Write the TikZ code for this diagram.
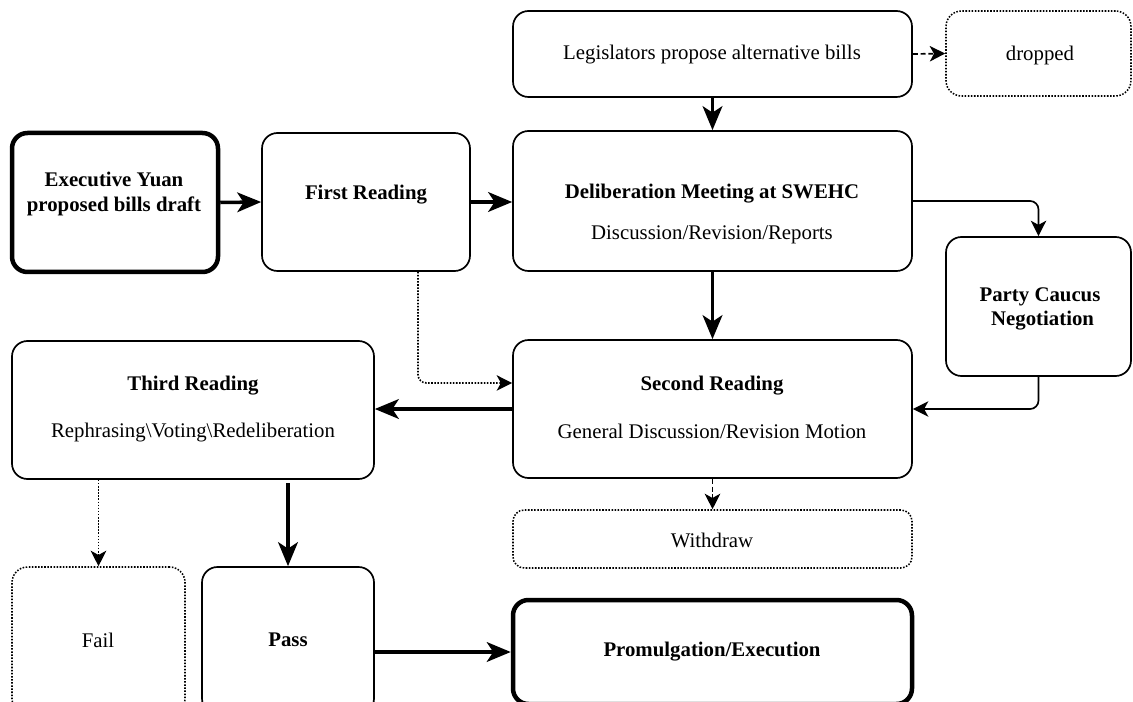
\documentclass[tikz,border=0pt]{standalone}
\usepackage{fontspec}
\setmainfont{Liberation Serif}
\usetikzlibrary{arrows.meta,fit,calc}
\begin{document}
\begin{tikzpicture}[x=0.025cm,y=-0.025cm,
  box/.style={draw=black,line width=1.2pt,rounded corners=11pt,inner sep=0pt,fill=white},
  heavybox/.style={box,line width=3.2pt},
  dotbox/.style={box,line width=1.1pt,dash pattern=on 1.1pt off 1.1pt},
  txt/.style={font=\fontsize{14.8}{16.5}\selectfont,align=center,inner sep=0pt},
  btxt/.style={txt,font=\fontsize{14.8}{17.5}\selectfont\bfseries},
  tip/.style={-{Stealth[length=11pt,width=11pt,inset=3pt]}},
  conn/.style={tip,line width=1.2pt,rounded corners=6pt},
  heavy/.style={-{Stealth[length=17pt,width=14pt,inset=4.5pt]},line width=2.5pt},
  dotconn/.style={conn,dash pattern=on 1.1pt off 1.1pt},
  dashconn/.style={conn,dash pattern=on 3.5pt off 2pt}]
\useasboundingbox (0,0) rectangle (1133,702);
% boxes
\node[box,fit={(513,11) (912,97)}] (leg) {};
\node[dotbox,fit={(946,11) (1131,96)}] (dropped) {};
\node[heavybox,fit={(12,133) (218,272)}] (exec) {};
\node[box,fit={(262,133) (470,271)}] (first) {};
\node[box,fit={(513,131) (912,271)}] (delib) {};
\node[box,fit={(946,237) (1131,376)}] (party) {};
\node[box,fit={(513,340) (912,478)}] (second) {};
\node[box,fit={(12,341) (374,479)}] (third) {};
\node[dotbox,rounded corners=8pt,fit={(513,510) (912,568)}] (withdraw) {};
\node[dotbox,fit={(12,567) (185,714)}] (fail) {};
\node[box,fit={(202,567) (374,714)}] (pass) {};
\node[heavybox,fit={(513,600) (912,704)}] (prom) {};
% texts
\node[btxt] (exec-t) at (114,194) {Executive Yuan\\proposed bills draft};
\node[btxt] (first-t) at (366,195) {First Reading};
\node[txt] (leg-t) at (712,55) {Legislators propose alternative bills};
\node[txt] (dropped-t) at (1040,55) {dropped};
\node[btxt] (delib-t) at (712,194) {Deliberation Meeting at SWEHC};
\node[txt] (delib-s) at (712,235) {Discussion/Revision/Reports};
\node[btxt] (party-t) at (1040,309) {Party Caucus\\\ Negotiation};
\node[btxt] (second-t) at (712,386) {Second Reading};
\node[txt] (second-s) at (712,431) {General Discussion/Revision Motion};
\node[btxt] (third-t) at (193,386) {Third Reading};
\node[txt] (third-s) at (193,433) {Rephrasing\textbackslash Voting\textbackslash Redeliberation};
\node[txt] (withdraw-t) at (712,540) {Withdraw};
\node[txt] (fail-t) at (98,640) {Fail};
\node[btxt] (pass-t) at (288,640) {Pass};
\node[btxt] (prom-t) at (712,652) {Promulgation/Execution};
% connectors
\draw[heavy] (exec.east) -- (first.west);
\draw[heavy] (first.east) -- (delib.west |- first.east);
\draw[heavy] (leg.south) -- (delib.north);
\draw[dashconn] (leg.east) -- (dropped.west);
\draw[conn] (delib.east) -| (party.north);
\draw[conn] (party.south) |- (second.east);
\draw[heavy] (delib.south) -- (second.north);
\draw[dotconn] ([xshift=1.3cm]first.south) |- ([yshift=0.65cm]second.west);
\draw[heavy] (second.west) -- (second.west -| third.east);
\draw[dotconn] (fail.north |- third.south) -- (fail.north);
\draw[heavy] ([yshift=-0.08cm]pass.north |- third.south) -- (pass.north);
\draw[dashconn] (second.south) -- (withdraw.north);
\draw[heavy] (pass.east |- prom.west) -- (prom.west);
\end{tikzpicture}
\end{document}
